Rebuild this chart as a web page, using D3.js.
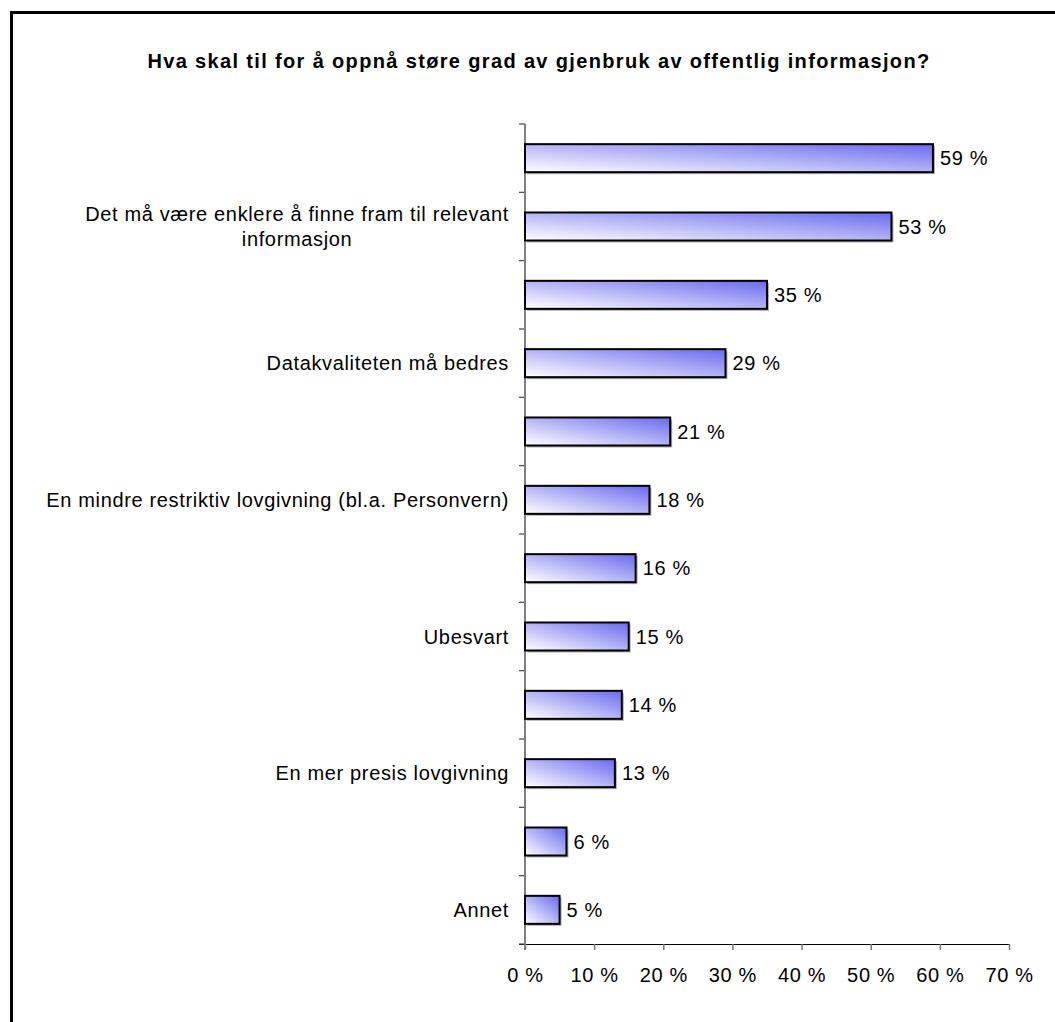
<!DOCTYPE html>
<html>
<head>
<meta charset="utf-8">
<script src="https://cdn.jsdelivr.net/npm/d3@7"></script>
<style>
  html, body { margin: 0; padding: 0; background: #fff; }
  svg { display: block; }
  text { font-family: "Liberation Sans", Arial, sans-serif; fill: #000; }
</style>
</head>
<body>
<script>
// Survey question and answers (share of respondents, %)
const title = "Hva skal til for å oppnå støre grad av gjenbruk av offentlig informasjon?";
// Only every other category carries a printed label on the axis
const categories = [
  "",
  "Det må være enklere å finne fram til relevant\ninformasjon",
  "",
  "Datakvaliteten må bedres",
  "",
  "En mindre restriktiv lovgivning (bl.a. Personvern)",
  "",
  "Ubesvart",
  "",
  "En mer presis lovgivning",
  "",
  "Annet"
];
const values = [59, 53, 35, 29, 21, 18, 16, 15, 14, 13, 6, 5];
const xTicks = [0, 10, 20, 30, 40, 50, 60, 70];

const W = 1055, H = 1022;
const plot = { left: 525, right: 1009, top: 124, bottom: 944 };
const bodySize = 20, bodySpacing = 0.65;

const svg = d3.select("body").append("svg")
  .attr("width", W).attr("height", H);

const defs = svg.append("defs");
const grad = defs.append("linearGradient")
  .attr("id", "barFill")
  .attr("x1", 0).attr("y1", 1).attr("x2", 1).attr("y2", 0);
grad.append("stop").attr("offset", "0%").attr("stop-color", "#ffffff");
grad.append("stop").attr("offset", "100%").attr("stop-color", "#6a6aef");

// Outer chart frame (right and bottom edges run past the page)
svg.append("path")
  .attr("d", `M11.5,${H + 5} V12.5 H${W + 5}`)
  .attr("fill", "none").attr("stroke", "#000").attr("stroke-width", 3);

// Title
svg.append("text")
  .attr("x", 539).attr("y", 68)
  .attr("text-anchor", "middle")
  .attr("font-weight", "bold")
  .attr("font-size", 20)
  .attr("letter-spacing", 1.35)
  .text(title);

const x = d3.scaleLinear().domain([0, 70]).range([plot.left, plot.right]);
const idx = d3.range(categories.length);
const y = d3.scaleBand().domain(idx).range([plot.top, plot.bottom]).paddingInner(0.59).paddingOuter(0.295);
const yOuter = d3.scaleBand().domain(idx).range([plot.top, plot.bottom]);

// X axis
const xAxis = svg.append("g")
  .attr("transform", `translate(0,${plot.bottom})`)
  .call(d3.axisBottom(x).tickValues(xTicks).tickSize(6).tickPadding(18).tickFormat(d => d + " %"));
xAxis.select(".domain").attr("stroke", "#000").attr("stroke-width", 1.2)
  .attr("d", `M${plot.left - 6},0.5H${plot.right}`);
xAxis.selectAll(".tick line").attr("stroke", "#777").attr("stroke-width", 1.5);
xAxis.selectAll(".tick text")
  .attr("font-size", bodySize)
  .attr("letter-spacing", bodySpacing)
  .attr("font-family", "Liberation Sans, Arial, sans-serif");

// Y axis: ticks at category boundaries
const yAxisG = svg.append("g");
const bounds = d3.range(categories.length + 1).map(i => plot.top + i * yOuter.step());
yAxisG.selectAll("line.tk").data(bounds).join("line")
  .attr("class", "tk")
  .attr("x1", plot.left - 6).attr("x2", plot.left)
  .attr("y1", d => d).attr("y2", d => d)
  .attr("stroke", "#444").attr("stroke-width", 1.2);
yAxisG.append("line")
  .attr("x1", plot.left).attr("x2", plot.left)
  .attr("y1", plot.top).attr("y2", plot.bottom + 6)
  .attr("stroke", "#808080").attr("stroke-width", 2);

// Bars with a faint drop shadow
const bars = svg.append("g").selectAll("g").data(values).join("g");
bars.append("rect")
  .attr("x", x(0) + 2).attr("y", (d, i) => y(i) + 2)
  .attr("width", d => x(d) - x(0)).attr("height", y.bandwidth())
  .attr("fill", "#b0b0b0");
bars.append("rect")
  .attr("x", x(0)).attr("y", (d, i) => y(i))
  .attr("width", d => x(d) - x(0)).attr("height", y.bandwidth())
  .attr("fill", "url(#barFill)")
  .attr("stroke", "#000").attr("stroke-width", 2);

// Value labels
bars.append("text")
  .attr("x", d => x(d) + 7)
  .attr("y", (d, i) => yOuter(i) + yOuter.step() / 2)
  .attr("dy", "0.36em")
  .attr("font-size", bodySize)
  .attr("letter-spacing", bodySpacing)
  .text(d => d + " %");

// Category labels, each block right-aligned with its lines centred
const labelRight = 509, lineH = 25;
categories.forEach((c, i) => {
  if (!c) return;
  const lines = c.split("\n");
  const t = svg.append("text")
    .attr("font-size", bodySize)
    .attr("letter-spacing", bodySpacing)
    .attr("text-anchor", "middle");
  const cy = yOuter(i) + yOuter.step() / 2;
  lines.forEach((ln, k) => {
    t.append("tspan")
      .attr("y", cy + (k - (lines.length - 1) / 2) * lineH)
      .attr("dy", "0.36em")
      .text(ln);
  });
  const w = d3.max(t.selectAll("tspan").nodes(), n => n.getComputedTextLength());
  t.selectAll("tspan").attr("x", labelRight - w / 2);
});
</script>
</body>
</html>
